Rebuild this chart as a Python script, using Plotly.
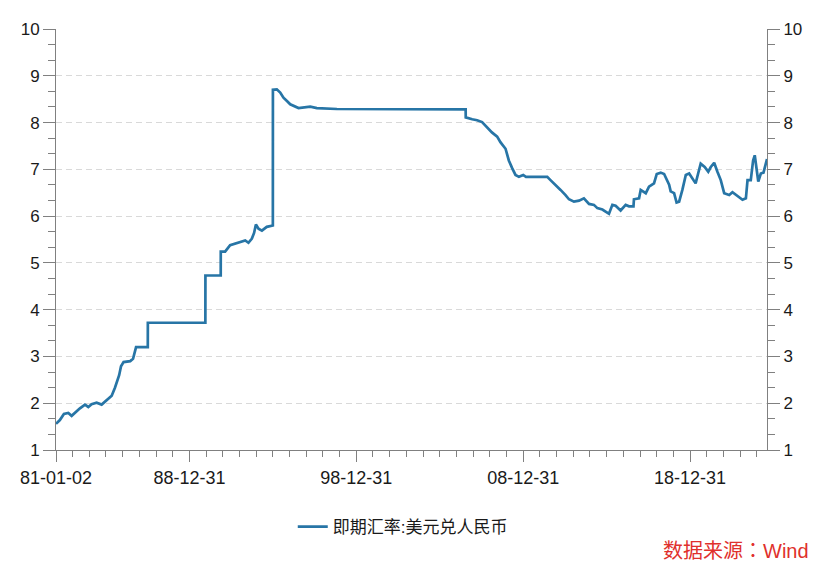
import plotly.graph_objects as go

# ---- data ----
dates = [
    "1981-01-02", "1981-03-28", "1981-06-24", "1981-09-28", "1981-12-10",
    "1982-03-15", "1982-06-10", "1982-09-28", "1982-12-10", "1983-02-20",
    "1983-06-10", "1983-09-28", "1984-01-15", "1984-05-05", "1984-07-15",
    "1984-09-05", "1984-10-15", "1984-11-25", "1985-01-20", "1985-06-15",
    "1985-08-15", "1985-10-20", "1986-07-04", "1986-07-05", "1989-12-15",
    "1989-12-16", "1990-11-16", "1990-11-17", "1991-02-20", "1991-06-10",
    "1991-09-28", "1992-01-15", "1992-05-05", "1992-07-15", "1992-09-28",
    "1992-11-15", "1992-12-25", "1993-02-20", "1993-05-05", "1993-08-20",
    "1993-12-31", "1994-01-01", "1994-03-28", "1994-06-10", "1994-08-20",
    "1994-11-15", "1995-01-15", "1995-07-15", "1995-11-01", "1996-03-28",
    "1996-08-20", "1997-11-01", "2005-07-20", "2005-07-22", "2005-12-10",
    "2006-03-28", "2006-07-15", "2006-10-20", "2007-02-15", "2007-06-10",
    "2007-08-20", "2007-12-10", "2008-02-20", "2008-05-05", "2008-07-15",
    "2008-09-28", "2008-12-31", "2009-03-01", "2010-06-10", "2010-08-20",
    "2010-12-10", "2011-03-28", "2011-07-15", "2011-09-28", "2012-01-15",
    "2012-05-05", "2012-08-20", "2012-12-10", "2013-03-28", "2013-06-10",
    "2013-09-28", "2014-01-15", "2014-02-20", "2014-05-05", "2014-07-15",
    "2014-11-01", "2015-02-20", "2015-05-05", "2015-08-10", "2015-08-20",
    "2015-12-10", "2016-01-15", "2016-05-05", "2016-07-15", "2016-11-01",
    "2016-12-31", "2017-03-28", "2017-06-10", "2017-09-28", "2017-11-01",
    "2018-01-15", "2018-03-10", "2018-05-05", "2018-07-15", "2018-09-28",
    "2018-12-10", "2019-02-20", "2019-05-01", "2019-06-25", "2019-08-20",
    "2019-11-15", "2020-02-01", "2020-03-28", "2020-06-10", "2020-08-20",
    "2020-11-01", "2021-01-15", "2021-05-05", "2021-07-15", "2021-11-01",
    "2022-02-20", "2022-05-05", "2022-06-10", "2022-08-20", "2022-10-10",
    "2022-11-15", "2022-12-25", "2023-01-31", "2023-03-28", "2023-05-25",
    "2023-08-10",
]
usdcny = [
    1.56, 1.64, 1.77, 1.79, 1.73,
    1.82, 1.89, 1.97, 1.92, 1.98,
    2.01, 1.97, 2.07, 2.16, 2.33,
    2.47, 2.60, 2.79, 2.88, 2.90,
    2.95, 3.20, 3.20, 3.72, 3.72,
    4.73, 4.73, 5.24, 5.24, 5.38,
    5.41, 5.45, 5.48, 5.43, 5.52,
    5.64, 5.82, 5.73, 5.69, 5.77,
    5.80, 8.70, 8.71, 8.64, 8.53,
    8.45, 8.39, 8.31, 8.32, 8.34,
    8.31, 8.29, 8.28, 8.11, 8.07,
    8.05, 8.01, 7.91, 7.79, 7.70,
    7.58, 7.44, 7.19, 7.02, 6.88,
    6.84, 6.88, 6.84, 6.84, 6.77,
    6.67, 6.56, 6.45, 6.36, 6.31,
    6.33, 6.38, 6.26, 6.24, 6.17,
    6.14, 6.08, 6.05, 6.24, 6.22,
    6.12, 6.24, 6.21, 6.21, 6.36,
    6.38, 6.56, 6.49, 6.63, 6.70,
    6.90, 6.93, 6.90, 6.67, 6.53,
    6.49, 6.29, 6.31, 6.56, 6.88,
    6.91, 6.81, 6.70, 6.91, 7.12,
    7.05, 6.95, 7.05, 7.14, 6.95,
    6.77, 6.49, 6.45, 6.51, 6.43,
    6.35, 6.38, 6.77, 6.77, 7.19,
    7.30, 7.05, 6.74, 6.91, 6.93,
    7.22,
]
series_name = "即期汇率:美元兑人民币"
x_major_vals = ["1981-01-02", "1983-12-31", "1988-12-31", "1993-12-31", "1998-12-31",
                "2003-12-31", "2008-12-31", "2013-12-31", "2018-12-31"]
x_major_text = ["81-01-02", "", "88-12-31", "", "98-12-31", "", "08-12-31", "", "18-12-31"]
x_minor_vals = [f"{y}-12-31" for y in range(1981, 2023)]
y_ticks = [1, 2, 3, 4, 5, 6, 7, 8, 9, 10]
source_text = "数据来源：Wind"

LINE = "#2775a6"
AXIS = "#808080"
FONT = "Liberation Sans, Arial, Noto Sans CJK SC, sans-serif"

fig = go.Figure()
fig.add_trace(go.Scatter(x=dates, y=usdcny, mode="lines", name=series_name,
                         line=dict(color=LINE, width=2.7), yaxis="y"))
fig.add_trace(go.Scatter(x=dates, y=usdcny, mode="lines", showlegend=False,
                         line=dict(color="rgba(0,0,0,0)", width=0), yaxis="y2",
                         hoverinfo="skip"))

yax = dict(range=[1, 10], tickmode="array", tickvals=y_ticks,
           ticks="outside", ticklen=12, tickcolor=AXIS, tickwidth=1,
           showline=True, linecolor=AXIS, linewidth=1, zeroline=False,
           tickfont=dict(size=17, color="#1a1a1a", family=FONT),
           minor=dict(tickmode="array",
                      tickvals=[v + d for v in range(1, 10) for d in (1/3, 2/3)],
                      ticks="outside", ticklen=7, tickcolor=AXIS))

# page body adds an 8px offset, so the figure is sized/margined to compensate
fig.update_layout(
    width=824, height=558,
    margin=dict(l=48, r=65.3, t=16, b=116),
    paper_bgcolor="white", plot_bgcolor="white",
    font=dict(family=FONT, size=17, color="#1a1a1a"),
    xaxis=dict(type="date", range=["1981-01-02", "2023-08-10"],
               tickmode="array", tickvals=x_major_vals, ticktext=x_major_text,
               ticks="outside", ticklen=11, tickcolor=AXIS, tickwidth=1,
               showline=True, linecolor=AXIS, linewidth=1, showgrid=False,
               zeroline=False, tickfont=dict(size=18, color="#1a1a1a"),
               minor=dict(tickmode="array", tickvals=x_minor_vals,
                          ticks="outside", ticklen=6, tickcolor=AXIS)),
    yaxis=dict(**yax, side="left", showgrid=True, gridcolor="#d9d9d9",
               griddash="6px,4px", gridwidth=1),
    yaxis2=dict(**yax, side="right", overlaying="y", anchor="x", showgrid=False),
    legend=dict(orientation="h", x=0.333, xanchor="left", y=-0.183, yanchor="middle",
                font=dict(size=17, color="#1a1a1a", family=FONT),
                bgcolor="rgba(0,0,0,0)"),
    showlegend=True,
)
fig.add_annotation(text=source_text, xref="paper", yref="paper",
                   x=1.0623, y=-0.2394, xanchor="right", yanchor="middle",
                   showarrow=False,
                   font=dict(size=20, color="#e0302c",
                             family="Liberation Sans, Arial, Noto Sans CJK TC, sans-serif"))

fig.write_html("out.html")
